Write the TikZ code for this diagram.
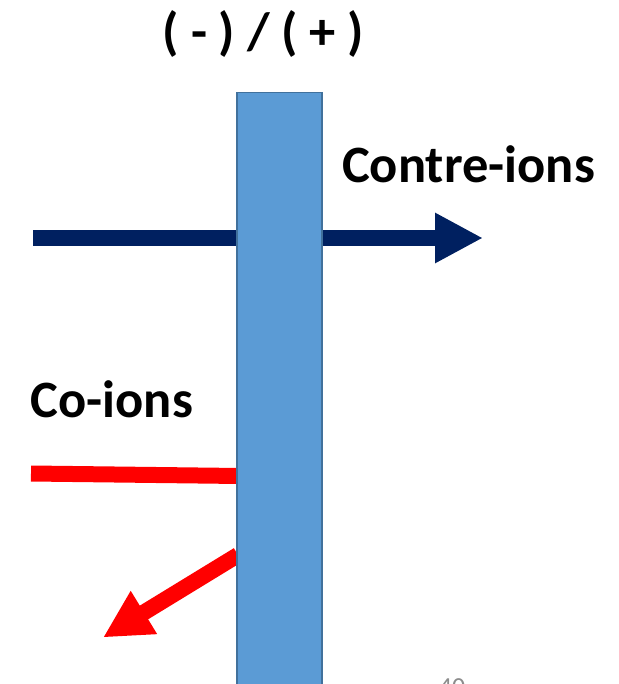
\documentclass[tikz,border=0pt]{standalone}
\usepackage{fontspec}
\setmainfont{Carlito}
\usetikzlibrary{arrows.meta}
\definecolor{membraneblue}{HTML}{5B9BD5}
\definecolor{membraneedge}{HTML}{41719C}
\definecolor{navyion}{HTML}{002060}
\definecolor{pagegray}{HTML}{8C8C8C}
\begin{document}
\begin{tikzpicture}[x=1pt, y=-1pt,
  ionlabel/.style={font=\fontsize{52.5}{52.5}\selectfont\bfseries, inner sep=0pt},
  flux/.style={line width=16pt, -{Triangle[length=48pt,width=47pt]}}]
  \useasboundingbox (0,0) rectangle (618,684);
  \clip (0,0) rectangle (618,684);
  \coordinate (navy start) at (33,238);
  \coordinate (navy tip) at (483,238);
  \coordinate (co start) at (31,473.5);
  \coordinate (co end) at (240,476);
  \coordinate (co out) at (238,555);
  \coordinate (co tip) at (103,637.5);
  \draw[flux, navyion] (navy start) -- (navy tip);
  \draw[red, line width=16pt] (co start) -- (co end);
  \draw[flux, red] (co out) -- (co tip);
  \node[draw=membraneedge, fill=membraneblue, line width=1.5pt, minimum width=85pt,
    minimum height=620pt, anchor=north west, inner sep=0pt] (membrane) at (236,92) {};
  \node[ionlabel, anchor=base] (charge) at (263.5,50) {( - ) / ( + )};
  \node[ionlabel, anchor=base west] (contre) at (342,183) {Contre-ions};
  \node[ionlabel, anchor=base west] (co) at (30.5,417) {Co-ions};
  \node[font=\fontsize{26}{26}\selectfont, text=pagegray, inner sep=0pt, anchor=base] (page) at (452,695.5) {40};
\end{tikzpicture}
\end{document}
